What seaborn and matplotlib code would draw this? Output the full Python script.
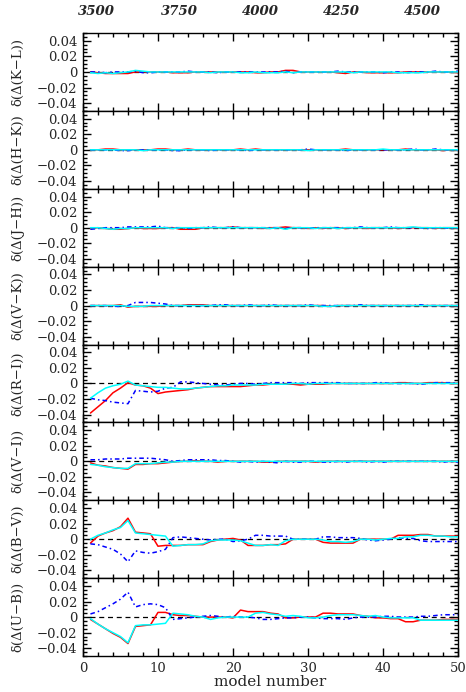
import numpy as np
import pandas as pd
import matplotlib
matplotlib.use("Agg")
import matplotlib.pyplot as plt
import seaborn as sns
from matplotlib.ticker import MultipleLocator

# ---------------- data (values in units of 0.001 mag) ----------------
models = list(range(1, 51))

panel_labels = ["δ(Δ(K−L))", "δ(Δ(H−K))", "δ(Δ(J−H))", "δ(Δ(V−K))",
                "δ(Δ(R−I))", "δ(Δ(V−I))", "δ(Δ(B−V))", "δ(Δ(U−B))"]

temps = [3500, 3750, 4000, 4250, 4500]
temp_model_pos = [1.8, 12.8, 23.6, 34.5, 45.3]

kl_red  = [0,-1,-2,-2,-2,-2,0,0,0,0, 0,-1,-1,-1,0,0,0,0,0,0, 0,0,-1,-1,0,0,2,2,0,0, 0,0,0,-1,-2,0,0,-1,-1,-1, -1,-1,0,0,0,0,0,0,0,-1]
kl_cyan = [-1,-2,-1,-2,-1,0,2,1,0,0, 0,0,0,0,0,0,-1,0,0,0, -1,-1,0,-1,-1,-1,0,-1,0,0, 0,0,0,0,0,-1,0,0,0,0, 0,-1,-1,-1,-1,0,0,0,0,0]
kl_blue = [0,0,-1,0,0,0,1,-1,-1,0, 0,0,0,1,0,0,0,-1,0,0, 0,0,0,0,0,0,1,-1,0,0, 0,0,0,1,0,0,0,0,0,-1, 0,0,-1,0,0,0,1,0,0,1]

hk_red  = [0,0,1,1,0,0,0,0,0,1, 1,0,0,1,0,0,0,0,0,0, 1,0,1,0,0,0,0,0,0,0, 0,0,0,0,1,0,0,0,0,0, 0,0,1,0,0,0,0,-1,0,0]
hk_cyan = [0,0,0,0,0,0,0,-1,0,0, 0,0,0,0,0,0,0,0,0,0, 0,0,0,0,0,0,0,0,0,-1, 0,0,0,0,0,0,0,0,0,1, 0,0,0,0,0,0,0,0,0,0]
hk_blue = [0,0,0,0,-1,-1,0,0,0,0, 0,-1,-1,0,0,0,-1,0,0,0, 0,-1,0,0,0,0,0,0,0,1, 0,0,0,0,-1,0,0,0,0,0, 0,0,0,1,0,0,1,0,0,0]

jh_red  = [-1,0,-1,-2,-2,-1,0,-1,-1,-1, 0,0,-2,-2,-2,0,0,0,0,1, 0,0,0,-1,0,0,1,0,0,-1, 0,-1,0,0,-1,0,0,-1,0,0, 0,-1,0,0,0,0,-1,0,0,0]
jh_cyan = [0,0,-1,-2,-1,-1,0,0,0,0, 0,-1,0,0,0,0,0,0,0,0, 0,0,0,0,-1,0,-2,0,0,0, -1,0,0,-1,0,0,0,0,0,0, 0,0,0,1,0,0,0,0,0,0]
jh_blue = [-2,-1,0,0,0,1,1,1,1,2, 0,0,0,-1,0,0,1,0,0,1, 0,0,0,0,0,0,-1,0,0,-1, 0,0,0,0,0,0,1,0,0,0, 1,0,0,0,0,-1,0,0,-1,0]

vk_red  = [0,0,0,0,1,-2,-1,-1,-1,-1, 0,0,0,1,1,1,0,0,0,0, 0,0,0,0,0,0,0,0,0,0, 0,0,-1,0,0,0,0,0,0,0, 0,0,0,0,0,0,0,0,0,0]
vk_cyan = [0,0,0,0,0,-1,-1,-1,0,0, 0,0,0,0,0,0,0,0,0,0, 0,0,0,0,0,0,0,0,0,0, 0,-1,-1,0,0,0,0,0,0,0, 0,0,0,0,0,0,0,0,0,0]
vk_blue = [0,0,0,-1,-1,0,4,4,4,3, 2,0,0,0,0,0,0,1,1,0, 0,1,0,0,1,0,0,0,0,1, 0,0,0,0,0,0,1,0,0,0, 0,0,0,0,1,0,0,0,0,0]

ri_red  = [-38,-30,-22,-12,-6,1,-2,-3,-6,-13, -11,-10,-9,-8,-6,-5,-4,-4,-4,-4, -4,-3,-2,-2,-1,-1,-1,-1,-2,-1, -1,-1,0,0,0,0,0,0,0,0, 0,1,1,0,0,1,1,1,0,0]
ri_cyan = [-19,-12,-6,-3,-1,3,-2,-3,-4,-5, -5,-6,-7,-7,-6,-5,-4,-3,-3,-2, -2,-2,-2,-1,-1,-1,-1,0,0,-1, 0,0,0,0,0,0,0,0,0,0, 0,0,0,0,0,0,0,0,0,0]
ri_blue = [-19,-21,-22,-24,-25,-26,-9,-10,-11,-10, -6,-5,2,2,1,0,-1,-2,-2,-1, 0,0,-1,0,1,1,1,1,0,1, 1,1,1,1,0,0,0,0,1,1, 0,0,0,0,-1,0,1,1,1,0]

vi_red  = [-2,-5,-6,-8,-9,-10,-4,-4,-3,-3, -2,-1,0,0,1,0,0,-1,0,0, 0,0,0,-1,-1,0,0,0,0,0, -1,0,0,0,0,0,0,0,0,0, 0,0,0,0,0,0,0,0,0,0]
vi_cyan = [-4,-5,-7,-8,-9,-9,-3,-3,-3,-2, -1,-1,0,0,0,0,0,0,0,0, 0,0,0,0,0,0,0,0,0,0, 0,0,0,0,0,0,0,0,0,0, 0,0,0,0,0,0,0,0,0,0]
vi_blue = [2,2,3,3,3,4,4,4,4,3, 2,0,1,2,2,2,2,1,1,0, -1,0,-1,0,-1,-2,0,-1,-1,0, 0,-1,-1,0,-1,0,0,-1,0,-1, 0,0,0,0,0,0,0,-1,0,-1]

bv_red  = [-5,4,8,11,16,27,9,8,7,-9, -8,-8,-8,-7,-7,-7,-3,-1,0,1, -1,-8,-8,-8,-7,-7,-6,0,0,0, 0,-4,-5,-5,-5,-5,0,0,0,0, 0,5,5,5,6,6,4,4,4,4]
bv_cyan = [0,5,8,12,15,24,8,7,6,5, 4,-9,-8,-7,-7,-6,-2,-1,-1,-1, -2,-5,-8,-8,-7,-8,-2,0,0,0, 0,-1,-3,-3,-4,-3,0,0,-1,0, 1,1,3,3,5,5,4,4,3,3]
bv_blue = [-6,-7,-10,-13,-19,-29,-15,-17,-18,-16, -13,2,3,2,1,0,-1,0,0,-3, -2,0,5,5,4,4,4,0,0,0, 0,3,3,2,2,2,1,-1,-2,-1, 0,2,1,1,-2,-3,-3,-3,-3,-3]

ub_red  = [-3,-9,-15,-21,-26,-34,-12,-11,-10,6, 6,3,2,2,1,0,0,0,0,-1, 9,7,7,7,5,4,-1,-1,0,0, 0,5,5,4,4,4,2,1,-1,-1, -2,-2,-6,-6,-4,-4,-4,-3,-3,-3]
ub_cyan = [-2,-9,-15,-20,-25,-33,-11,-10,-10,-9, -8,5,4,3,1,0,-3,-1,0,0, 0,0,5,6,4,3,1,2,1,-1, -1,0,2,3,3,3,2,1,2,0, -1,-1,-1,-1,-4,-4,-4,-4,-4,-4]
ub_blue = [4,7,12,17,23,32,13,16,17,16, 12,-3,-2,-1,0,1,2,1,0,1, 0,0,-1,-3,-3,-2,-1,-1,0,0, -1,-2,-2,-2,-3,-1,0,0,0,1, 1,0,0,0,1,1,2,3,3,3]

series = [
    (kl_red, kl_cyan, kl_blue), (hk_red, hk_cyan, hk_blue),
    (jh_red, jh_cyan, jh_blue), (vk_red, vk_cyan, vk_blue),
    (ri_red, ri_cyan, ri_blue), (vi_red, vi_cyan, vi_blue),
    (bv_red, bv_cyan, bv_blue), (ub_red, ub_cyan, ub_blue),
]

# ---------------- styling ----------------
sns.set_theme(style="ticks")
plt.rcParams["font.family"] = ["DejaVu Serif"]
plt.rcParams["axes.unicode_minus"] = True

fig, axes = plt.subplots(8, 1, figsize=(4.66, 6.92), dpi=100, sharex=True)
fig.subplots_adjust(left=0.178, right=0.983, top=0.9523, bottom=0.052, hspace=0)

fs = 9.5
for i, ax in enumerate(axes):
    red, cyan, blue = series[i]
    df = pd.DataFrame({"model": models,
                       "red": np.array(red) / 1000.0,
                       "cyan": np.array(cyan) / 1000.0,
                       "blue": np.array(blue) / 1000.0})
    ax.hlines(0, models[0], models[-1], colors="black", linestyles=(0, (4, 3)), lw=0.9, zorder=1)
    sns.lineplot(data=df, x="model", y="red", ax=ax, color="#ff0000", lw=1.1, zorder=2)
    sns.lineplot(data=df, x="model", y="blue", ax=ax, color="#0000ff", lw=1.1,
                 linestyle=(0, (3, 2, 1, 2)), zorder=3)
    sns.lineplot(data=df, x="model", y="cyan", ax=ax, color="#00ffff", lw=1.1, zorder=4)

    ax.set_xlim(0, 50)
    ax.set_ylim(-0.05, 0.05)
    ax.yaxis.set_major_locator(MultipleLocator(0.02))
    ax.yaxis.set_minor_locator(MultipleLocator(0.005))
    ax.xaxis.set_major_locator(MultipleLocator(10))
    ax.xaxis.set_minor_locator(MultipleLocator(2))
    ax.tick_params(which="both", direction="in", top=True, right=True, bottom=True, left=True,
                   color="black", width=1.0)
    ax.tick_params(which="major", length=6, labelsize=fs, pad=4)
    ax.tick_params(which="minor", length=3)
    ax.set_yticks([-0.04, -0.02, 0, 0.02, 0.04])
    ax.set_yticklabels(["−0.04", "−0.02", "0", "0.02", "0.04"])
    for sp in ax.spines.values():
        sp.set_color("black")
        sp.set_linewidth(1.0)
    ax.set_ylabel(panel_labels[i], fontsize=fs)
    ax.yaxis.set_label_coords(-0.155, 0.5)
    ax.set_xlabel("")
    if i < 7:
        ax.tick_params(labelbottom=False)

axes[-1].set_xlabel("model number", fontsize=fs + 1.5, labelpad=0)
axes[-1].set_xticks([0, 10, 20, 30, 40, 50])

top = axes[0].secondary_xaxis("top")
top.set_xticks(temp_model_pos)
top.set_xticklabels([str(t) for t in temps], fontsize=fs, fontweight="bold", fontstyle="italic")
top.tick_params(length=0, pad=11)
top.spines["top"].set_visible(False)

fig.savefig("out.png", dpi=100)
